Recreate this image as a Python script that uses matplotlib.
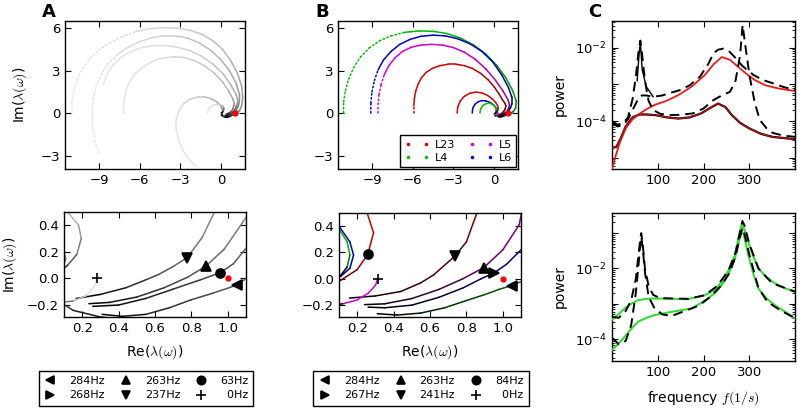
import numpy as np
import matplotlib
matplotlib.use('Agg')
import matplotlib.pyplot as plt
from matplotlib.collections import LineCollection
from matplotlib.lines import Line2D

plt.rcParams['font.family'] = ['DejaVu Sans']
plt.rcParams['mathtext.fontset'] = 'cm'

# ---------------- panel A: eigenvalue trajectories (grey) ----------------
a1_x = [-11.0, -11.0, -10.85, -10.6, -10.2, -9.65, -9.0, -8.2, -7.3, -6.3, -5.3, -4.3, -3.3, -2.3, -1.4, -0.6,
        0.1, 0.7, 1.2, 1.5, 1.58, 1.5, 1.35, 1.2, 1.1, 1.05, 0.92, 0.8, 0.68, 0.55, 0.42, 0.31]
a1_y = [0.0, 0.8, 1.6, 2.4, 3.15, 3.85, 4.45, 4.95, 5.4, 5.75, 5.95, 6.03, 6.0, 5.85, 5.55, 5.1,
        4.5, 3.7, 2.8, 1.9, 1.1, 0.5, 0.18, 0.06, 0.0, -0.05, -0.11, -0.16, -0.22, -0.27, -0.285, -0.27]
a2_x = [-9.0, -9.3, -9.47, -9.5, -9.42, -9.2, -8.85, -8.35, -7.7, -6.95, -6.1, -5.2, -4.3, -3.4, -2.5, -1.6,
        -0.8, -0.05, 0.6, 1.1, 1.35, 1.33, 1.25, 1.17, 1.09, 1.03, 0.958, 0.85, 0.7, 0.55, 0.4, 0.258]
a2_y = [-2.85, -2.0, -1.0, 0.0, 1.0, 1.9, 2.7, 3.45, 4.1, 4.6, 5.0, 5.3, 5.45, 5.45, 5.3, 4.95,
        4.45, 3.8, 3.0, 2.1, 1.3, 0.75, 0.48, 0.35, 0.21, 0.11, 0.043, -0.01, -0.08, -0.15, -0.2, -0.21]
a3_x = [-8.7, -8.4, -7.95, -7.35, -6.65, -5.85, -5.0, -4.1, -3.2, -2.3, -1.4, -0.6, 0.15, 0.7, 1.1, 1.22,
        1.17, 1.086, 0.98, 0.88, 0.78, 0.65, 0.5, 0.35, 0.237]
a3_y = [2.0, 2.75, 3.4, 3.95, 4.35, 4.62, 4.75, 4.77, 4.65, 4.4, 4.0, 3.45, 2.75, 2.0, 1.3, 0.9,
        0.62, 0.43, 0.22, 0.093, 0.01, -0.07, -0.14, -0.18, -0.19]
a4_x = [-7.2, -7.18, -7.05, -6.8, -6.4, -5.85, -5.2, -4.45, -3.6, -2.8, -2.0, -1.25, -0.55, 0.1, 0.55, 0.85,
        0.96, 0.93, 0.86, 0.776, 0.7, 0.62, 0.55, 0.44, 0.3, 0.167]
a4_y = [0.0, 0.7, 1.45, 2.1, 2.7, 3.2, 3.58, 3.85, 3.97, 3.93, 3.72, 3.35, 2.85, 2.2, 1.55, 1.0,
        0.7, 0.51, 0.31, 0.156, 0.09, 0.03, -0.01, -0.07, -0.12, -0.151]
a5_x = [-1.8, -2.3, -2.75, -3.1, -3.3, -3.3, -3.1, -2.75, -2.3, -1.8, -1.25, -0.75, -0.35, -0.05, 0.08, 0.11,
        0.08, 0.04, 0.06, 0.15, 0.3, 0.45]
a5_y = [-3.8, -3.35, -2.75, -2.0, -1.2, -0.45, 0.2, 0.68, 0.98, 1.12, 1.15, 1.02, 0.8, 0.52, 0.3, 0.15,
        0.02, -0.08, -0.16, -0.24, -0.29, -0.31]
a6_x = [-1.0, -0.97, -0.85, -0.6, -0.3, 0.0, 0.12, 0.18, 0.195, 0.17, 0.12, 0.08, 0.0]
a6_y = [0.0, 0.2, 0.4, 0.55, 0.6, 0.57, 0.5, 0.4, 0.3, 0.18, 0.1, 0.05, 0.0]
a7_x = [0.28, 0.267, 0.222, 0.15, 0.08, 0.0]
a7_y = [0.0, -0.06, -0.13, -0.17, -0.18, -0.15]

# resonance markers (A)
a_mark = ['<', '^', 'v', 'o', '+']
a_mx = [1.05, 0.88, 0.776, 0.958, 0.28]
a_my = [-0.05, 0.093, 0.156, 0.043, 0.0]
a_leg_labels = ['284Hz', '268Hz', '263Hz', '237Hz', '63Hz', '  0Hz']

# ---------------- panel B: per-layer trajectories ----------------
b1_x = [-11.1, -11.08, -10.95, -10.72, -10.35, -9.85, -9.2, -8.45, -7.6, -6.6, -5.5, -4.5, -3.5, -2.5, -1.5,
        -0.6, 0.2, 0.85, 1.35, 1.62, 1.58, 1.4, 1.25, 1.12, 1.05, 0.98, 0.9, 0.8, 0.68, 0.55, 0.42, 0.31]
b1_y = [0.0, 0.8, 1.6, 2.4, 3.2, 3.95, 4.6, 5.1, 5.45, 5.7, 5.8, 5.77, 5.62, 5.3, 4.8,
        4.15, 3.35, 2.5, 1.6, 0.85, 0.35, 0.1, 0.02, -0.01, -0.05, -0.08, -0.12, -0.165, -0.22, -0.26, -0.275, -0.265]
b2_x = [-9.09, -9.08, -9.0, -8.82, -8.55, -8.15, -7.6, -6.95, -6.2, -5.4, -4.5, -3.6, -2.7, -1.8, -0.9,
        -0.1, 0.55, 1.05, 1.3, 1.3, 1.2, 1.1, 1.02, 0.95, 0.88, 0.78, 0.65, 0.5, 0.35, 0.26]
b2_y = [0.0, 0.7, 1.5, 2.3, 3.05, 3.75, 4.35, 4.85, 5.2, 5.42, 5.5, 5.45, 5.25, 4.9, 4.35,
        3.6, 2.7, 1.8, 1.1, 0.65, 0.38, 0.22, 0.11, 0.043, 0.0, -0.07, -0.14, -0.2, -0.22, -0.215]
b3_x = [-8.55, -8.55, -8.48, -8.33, -8.1, -7.75, -7.3, -6.75, -6.1, -5.4, -4.6, -3.8, -3.0, -2.2, -1.4,
        -0.6, 0.1, 0.65, 1.0, 1.12, 1.09, 1.0, 0.895, 0.78, 0.65, 0.5, 0.35, 0.24]
b3_y = [0.0, 0.6, 1.3, 2.0, 2.7, 3.35, 3.9, 4.35, 4.65, 4.8, 4.85, 4.8, 4.62, 4.3, 3.8,
        3.1, 2.3, 1.55, 0.95, 0.62, 0.41, 0.22, 0.085, 0.0, -0.08, -0.15, -0.19, -0.196]
b4_x = [-5.92, -5.92, -5.88, -5.78, -5.6, -5.35, -5.0, -4.55, -4.0, -3.4, -2.8, -2.2, -1.6, -1.0, -0.45,
        0.0, 0.35, 0.6, 0.78, 0.86, 0.8, 0.735, 0.62, 0.55, 0.44, 0.3, 0.158]
b4_y = [0.0, 0.5, 1.0, 1.55, 2.05, 2.5, 2.88, 3.15, 3.35, 3.44, 3.44, 3.35, 3.15, 2.8, 2.35,
        1.85, 1.35, 0.95, 0.7, 0.51, 0.28, 0.17, 0.03, -0.03, -0.096, -0.13, -0.146]
b5_x = [-2.73, -2.68, -2.5, -2.2, -1.8, -1.35, -0.9, -0.5, -0.15, 0.1, 0.25, 0.29, 0.258, 0.2, 0.1, 0.0]
b5_y = [0.0, 0.45, 0.85, 1.18, 1.4, 1.48, 1.42, 1.25, 1.0, 0.75, 0.52, 0.35, 0.186, 0.07, -0.02, -0.08]
b6_x = [-1.62, -1.58, -1.42, -1.18, -0.9, -0.6, -0.3, -0.05, 0.1, 0.16, 0.18, 0.16, 0.11, 0.05]
b6_y = [0.0, 0.35, 0.62, 0.8, 0.88, 0.85, 0.75, 0.58, 0.4, 0.28, 0.18, 0.08, 0.02, -0.01]
b7_x = [-1.05, -1.0, -0.85, -0.62, -0.38, -0.15, 0.02, 0.1, 0.145, 0.16, 0.145, 0.1]
b7_y = [0.0, 0.3, 0.52, 0.66, 0.7, 0.63, 0.5, 0.38, 0.28, 0.18, 0.09, 0.01]
b8_x = [0.313, 0.3, 0.26, 0.2, 0.12, 0.05]
b8_y = [0.0, -0.05, -0.11, -0.16, -0.19, -0.2]

b_mark = ['<', '>', '^', 'v', 'o', '+']
b_mx = [1.05, 0.95, 0.895, 0.735, 0.258, 0.313]
b_my = [-0.053, 0.043, 0.085, 0.17, 0.186, 0.0]
b_leg_labels = ['284Hz', '267Hz', '263Hz', '241Hz', '84Hz', '  0Hz']
layers = ['L23', 'L4', 'L5', 'L6']

# ---------------- panel C: power spectra ----------------
c1_f = [0, 8, 18, 30, 45, 57, 75, 93, 120, 145, 175, 203, 222, 240, 258, 276, 295, 312, 335, 363, 400]
c1_p = [5.0e-6, 1.12e-5, 2.8e-5, 6.3e-5, 1.12e-4, 1.48e-4, 2.1e-4, 2.75e-4, 3.6e-4, 5.1e-4, 8.9e-4,
        1.82e-3, 3.55e-3, 5.6e-3, 4.7e-3, 3.0e-3, 1.9e-3, 1.32e-3, 9.5e-4, 7.8e-4, 6.6e-4]
c2_f = [0, 10, 20, 30, 45, 60, 75, 95, 120, 145, 170, 195, 215, 232, 248, 262, 280, 300, 325, 350, 400]
c2_p = [1.82e-5, 2.0e-5, 3.55e-5, 7.1e-5, 1.26e-4, 1.51e-4, 1.51e-4, 1.45e-4, 1.26e-4, 1.17e-4, 1.26e-4,
        1.62e-4, 2.3e-4, 3.0e-4, 2.4e-4, 1.45e-4, 8.9e-5, 6.3e-5, 4.5e-5, 3.7e-5, 3.2e-5]
d1_f = [0, 12, 25, 35, 45, 55, 60, 65, 75, 90, 110, 130, 150, 170, 192, 210, 222, 232, 243, 255, 268,
        285, 309, 330, 352, 375, 400]
d1_p = [8.9e-5, 7.1e-5, 7.9e-5, 1.12e-4, 2.0e-4, 3.55e-4, 4.5e-4, 5.0e-4, 5.0e-4, 4.6e-4, 5.0e-4, 6.0e-4,
        7.1e-4, 9.5e-4, 1.62e-3, 3.55e-3, 7.1e-3, 8.9e-3, 9.5e-3, 8.3e-3, 5.6e-3, 3.2e-3, 1.82e-3,
        1.32e-3, 1.07e-3, 8.5e-4, 7.1e-4]
d2_f = [0, 12, 25, 35, 45, 52, 58, 62, 66, 72, 80, 90, 105, 126, 150, 177, 200, 221, 240, 258, 270, 280,
        285.5, 291, 301, 312, 323, 338, 352, 375, 400]
d2_p = [1.0e-4, 7.9e-5, 8.9e-5, 1.26e-4, 4.0e-4, 1.58e-3, 7.9e-3, 1.58e-2, 6.3e-3, 1.26e-3, 3.55e-4,
        2.0e-4, 1.58e-4, 1.45e-4, 1.48e-4, 1.62e-4, 2.2e-4, 3.7e-4, 5.0e-4, 6.3e-4, 1.26e-3, 6.3e-3,
        4.2e-2, 1.26e-2, 1.62e-3, 3.2e-4, 1.07e-4, 6.3e-5, 4.7e-5, 4.0e-5, 3.7e-5]
s1_f = [55, 59, 62, 66, 75, 90]
s1_p = [1.26e-3, 6.3e-3, 1.41e-2, 2.5e-3, 8.7e-4, 4.6e-4]

g1_f = [0, 14, 28, 42, 57, 75, 93.5, 130, 166, 203, 225, 240, 255, 268.7, 278, 283, 288, 298, 310, 320,
        338, 356, 378, 400]
g1_p = [3.5e-4, 5.0e-4, 7.4e-4, 1.0e-3, 1.26e-3, 1.38e-3, 1.41e-3, 1.38e-3, 1.35e-3, 1.74e-3, 2.5e-3,
        4.2e-3, 8.9e-3, 2.4e-2, 8.9e-2, 0.17, 0.14, 5.6e-2, 2.0e-2, 1.0e-2, 5.6e-3, 3.8e-3, 2.75e-3, 2.2e-3]
g2_f = [0, 14, 28, 42, 57, 75, 93.5, 130, 175, 210, 225, 240, 255, 268.7, 278, 283, 288, 298, 310, 320,
        338, 356, 378, 400]
g2_p = [4.9e-5, 7.4e-5, 1.17e-4, 1.95e-4, 3.1e-4, 4.0e-4, 4.8e-4, 5.9e-4, 7.4e-4, 1.41e-3, 2.0e-3,
        3.4e-3, 7.1e-3, 1.9e-2, 6.3e-2, 0.11, 8.9e-2, 2.4e-2, 6.3e-3, 2.7e-3, 1.41e-3, 9.1e-4, 6.0e-4, 3.9e-4]
d3_f = [0, 15, 30, 42, 52, 58, 62, 64, 67, 72, 80, 90, 105, 130, 166, 203, 230, 255, 270, 280, 285, 290,
        300, 320, 350, 400]
d3_p = [4.3e-4, 4.0e-4, 6.3e-4, 1.26e-3, 5.0e-3, 2.5e-2, 7.1e-2, 0.1, 5.0e-2, 1.0e-2, 3.2e-3, 1.78e-3,
        1.45e-3, 1.41e-3, 1.38e-3, 1.74e-3, 3.2e-3, 8.9e-3, 2.8e-2, 0.11, 0.22, 0.16, 5.0e-2, 1.0e-2,
        3.8e-3, 2.2e-3]
d4_f = [0, 15, 30, 42, 52, 58, 62, 64, 67, 72, 80, 93, 110, 130, 160, 190, 215, 240, 258, 270, 280, 285,
        290, 300, 320, 340, 370, 400]
d4_p = [1.1e-4, 7.1e-5, 8.9e-5, 2.5e-4, 2.0e-3, 1.26e-2, 5.0e-2, 7.9e-2, 4.0e-2, 7.9e-3, 1.58e-3,
        7.4e-4, 5.0e-4, 4.5e-4, 6.3e-4, 8.9e-4, 1.58e-3, 3.4e-3, 7.9e-3, 2.2e-2, 7.9e-2, 0.14, 8.9e-2,
        2.5e-2, 2.8e-3, 1.12e-3, 6.3e-4, 3.9e-4]

red = np.array([0.85, 0.0, 0.0])
green = np.array([0.0, 0.75, 0.0])
magenta = np.array([0.85, 0.0, 0.85])
blue = np.array([0.0, 0.0, 0.8])


def trail(ax, xs, ys, c0, c1, p=2.0, ndot=0, lw=1.0):
    # line whose colour runs from c0 (start) to c1 (end)
    pts = np.column_stack([xs, ys])
    segs = np.stack([pts[:-1], pts[1:]], axis=1)
    t = np.linspace(0, 1, len(segs)) ** p
    cols = (1 - t)[:, None] * np.array(c0) + t[:, None] * np.array(c1)
    ls = [':' if i < ndot else '-' for i in range(len(segs))]
    ax.add_collection(LineCollection(segs, colors=cols, linewidths=lw, linestyles=ls,
                                     capstyle='round', joinstyle='round'))


def style(ax):
    ax.tick_params(direction='in', top=True, right=True, length=4, width=0.8, labelsize=9.5)
    ax.tick_params(which='minor', direction='in', top=True, right=True, length=2, width=0.6)
    for s in ax.spines.values():
        s.set_linewidth(1.0)


W, H = 798, 409


def rect(x0, x1, y0, y1):
    return [x0 / W, 1 - y1 / H, (x1 - x0) / W, (y1 - y0) / H]


fig = plt.figure(figsize=(W / 100, H / 100), dpi=100)
axA1 = fig.add_axes(rect(65, 245, 21, 169))
axB1 = fig.add_axes(rect(338, 518, 21, 169))
axC1 = fig.add_axes(rect(612, 795, 21, 169))
axA2 = fig.add_axes(rect(64, 246, 212, 317))
axB2 = fig.add_axes(rect(339, 521, 213, 317))
axC2 = fig.add_axes(rect(612, 795, 213, 361))

lightgrey = [0.9, 0.9, 0.9]
black = [0, 0, 0]
a_curves = [(a1_x, a1_y, 9), (a2_x, a2_y, 8), (a3_x, a3_y, 0), (a4_x, a4_y, 0),
            (a5_x, a5_y, 0), (a6_x, a6_y, 0), (a7_x, a7_y, 0)]
b_curves = [(b1_x, b1_y, green, 3, 9), (b2_x, b2_y, blue, 3, 4), (b3_x, b3_y, magenta, 3, 4),
            (b4_x, b4_y, red, 3, 1), (b5_x, b5_y, red, 10, 0), (b6_x, b6_y, blue, 10, 0),
            (b7_x, b7_y, green, 10, 0), (b8_x, b8_y, magenta, 10, 0)]

for ax in (axA1, axA2):
    for xs, ys, nd in a_curves:
        trail(ax, xs, ys, lightgrey, black, p=2.5, ndot=nd, lw=1.1)
for ax in (axB1, axB2):
    for xs, ys, c, p, nd in b_curves:
        trail(ax, xs, ys, c, black, p=p, ndot=nd, lw=1.1)

for ax in (axA1, axB1, axA2, axB2):
    ax.plot([1.0], [0.0], 'o', color='red', ms=4.5, mec='none', zorder=5)

for m, x, y in zip(a_mark, a_mx, a_my):
    axA2.plot([x], [y], m, color='k', ms=6.5 if m != '+' else 7, mew=1.2, zorder=6)
for m, x, y in zip(b_mark, b_mx, b_my):
    axB2.plot([x], [y], m, color='k', ms=6.5 if m != '+' else 7, mew=1.2, zorder=6)

for ax in (axA1, axB1):
    ax.set_xlim(-11.5, 1.75)
    ax.set_ylim(-3.95, 6.5)
    ax.set_xticks([-9, -6, -3, 0])
    ax.set_yticks([-3, 0, 3, 6])
    style(ax)
for ax in (axA2, axB2):
    ax.set_xlim(0.1, 1.1)
    ax.set_ylim(-0.29, 0.5)
    ax.set_xticks([0.2, 0.4, 0.6, 0.8, 1.0])
    ax.set_yticks([-0.2, 0.0, 0.2, 0.4])
    ax.set_xticklabels(['0.2', '0.4', '0.6', '0.8', '1.0'])
    ax.set_yticklabels(['\u22120.2', '0.0', '0.2', '0.4'])
    style(ax)
    ax.set_xlabel(r'Re($\lambda(\omega)$)', fontsize=10)
    ax.xaxis.set_label_coords(0.5, -0.25)

axA1.set_ylabel(r'Im($\lambda(\omega)$)', fontsize=10)
axA1.yaxis.set_label_coords(-0.2, 0.5)
axA2.set_ylabel(r'Im($\lambda(\omega)$)', fontsize=10)
axA2.yaxis.set_label_coords(-0.245, 0.5)

# layer legend in B
lay_cols = [red, green, magenta, blue]
hl = [Line2D([], [], color=c, marker='.', ls='None', ms=3) for c in lay_cols]
axB1.legend(hl, layers, ncol=2, numpoints=2, loc='lower right', fontsize=8, fancybox=False,
            edgecolor='k', framealpha=1, handlelength=2.2, handletextpad=0.5, columnspacing=1.2,
            borderpad=0.4, labelspacing=0.3, borderaxespad=0.15)

# spectra
axC1.plot(c1_f, c1_p, color='#ee1a1a', lw=1.3, zorder=3)
axC1.plot(c2_f, c2_p, color='black', lw=1.6, zorder=2)
axC1.plot(c2_f, c2_p, color='#b01010', lw=1.0, zorder=3)
axC1.plot(d1_f, d1_p, color='black', lw=1.4, ls=(0, (5, 3)), zorder=4)
axC1.plot(d2_f, d2_p, color='black', lw=1.4, ls=(0, (5, 3)), zorder=4)
axC1.plot(s1_f, s1_p, color='black', lw=1.0, zorder=4)

axC2.plot(g1_f, g1_p, color='#33dd33', lw=1.5, zorder=3)
axC2.plot(g2_f, g2_p, color='#33dd33', lw=1.5, zorder=3)
axC2.plot(d3_f, d3_p, color='black', lw=1.4, ls=(0, (5, 3)), zorder=4)
axC2.plot(d4_f, d4_p, color='black', lw=1.4, ls=(0, (5, 3)), zorder=4)

for ax in (axC1, axC2):
    ax.set_yscale('log')
    ax.set_xlim(0, 400)
    ax.set_xticks([100, 200, 300])
    ax.set_yticks([1e-5, 1e-4, 1e-3, 1e-2, 1e-1])
    ax.set_yticklabels(['', r'$\mathregular{10^{-4}}$', '', r'$\mathregular{10^{-2}}$', ''])
    ax.yaxis.set_minor_locator(matplotlib.ticker.LogLocator(base=10, subs=np.arange(2, 10), numticks=20))
    ax.yaxis.set_minor_formatter(matplotlib.ticker.NullFormatter())
    style(ax)
    ax.set_ylabel('power', fontsize=10)
    ax.yaxis.set_label_coords(-0.245, 0.5)
axC1.set_ylim(4.9e-6, 5.4e-2)
axC2.set_ylim(2.4e-5, 0.37)
axC2.set_xlabel(r'frequency $f(1/s)$', fontsize=10)
axC2.xaxis.set_label_coords(0.5, -0.19)

# marker legends under A and B
for labels, cx in ((a_leg_labels, 146 / W), (b_leg_labels, 421 / W)):
    order = ['<', '>', '^', 'v', 'o', '+']
    hs = [Line2D([], [], marker=m, ls='None', color='k', ms=6 if m != '+' else 7, mew=1.2) for m in order]
    fig.legend(hs, labels, ncol=3, loc='center', bbox_to_anchor=(cx, 1 - 388 / H), fontsize=8,
               fancybox=False, edgecolor='k', framealpha=1, handlelength=1.2, handletextpad=1.1,
               columnspacing=1.3, borderpad=0.45, labelspacing=0.45)

fig.text(42 / W, 1 - 3 / H, 'A', fontsize=13, weight='bold', va='top')
fig.text(315 / W, 1 - 3 / H, 'B', fontsize=13, weight='bold', va='top')
fig.text(588 / W, 1 - 3 / H, 'C', fontsize=13, weight='bold', va='top')

fig.savefig('out.png', dpi=100, facecolor='white')
